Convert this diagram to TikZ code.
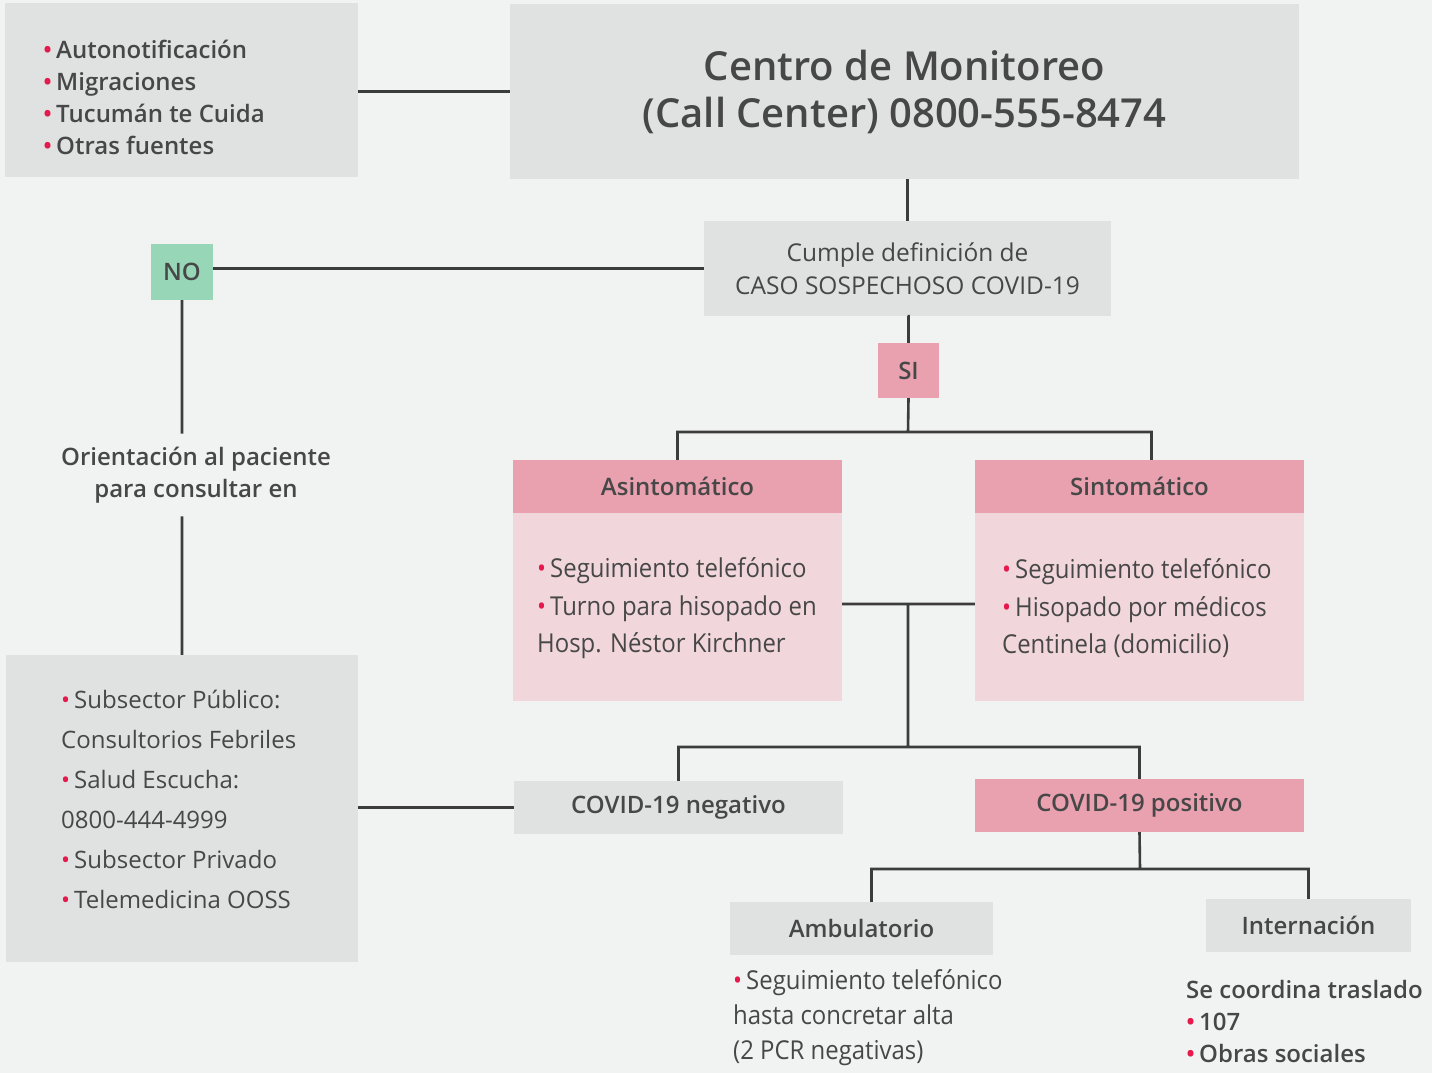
\documentclass[tikz,border=0pt]{standalone}
\usepackage{fontspec}
\setmainfont{Open Sans}
\newfontfamily\angosta[FakeStretch=0.92]{Open Sans}
\IfFontExistsTF{Open Sans Semibold}
  {\newfontfamily\semi{Open Sans Semibold}}
  {\IfFontExistsTF{Open Sans SemiBold}
    {\newfontfamily\semi{Open Sans SemiBold}}
    {\newcommand{\semi}{\bfseries}}}
\usetikzlibrary{positioning}

\definecolor{bggrey}{HTML}{F1F2F2}
\definecolor{boxgrey}{HTML}{E0E1E1}
\definecolor{pinkhead}{HTML}{E9A1B0}
\definecolor{pinkbody}{HTML}{F1D7DC}
\definecolor{nogreen}{HTML}{97D6B7}
\definecolor{inkgrey}{HTML}{474747}
\definecolor{dotred}{HTML}{E5194B}
\definecolor{linegrey}{HTML}{3C3C3C}

\newcommand{\punto}{\textcolor{dotred}{•}\hspace{4pt}}

\tikzset{
  caja/.style={fill=boxgrey, inner sep=0pt, text=inkgrey},
  cabeza/.style={fill=pinkhead, inner sep=0pt, text=inkgrey},
  cuerpo/.style={fill=pinkbody, inner sep=0pt},
  rotulo/.style={font=\semi\fontsize{24}{32}\selectfont},
  lista/.style={inner sep=0pt, align=left, text=inkgrey},
  conector/.style={draw=linegrey, line width=2.6pt},
}

\begin{document}
\begin{tikzpicture}[x=1pt,y=-1pt]
  \fill[bggrey] (0,0) rectangle (1432,1073);
  \useasboundingbox (0,0) rectangle (1432,1073);

  \node[caja, minimum width=353pt, minimum height=174pt] (fuentes) at (181.5,90) {};
  \node[lista, rotulo, anchor=west] (fuentestxt) at (43,97)
    {\punto Autonotificación\\\punto Migraciones\\\punto Tucumán te Cuida\\\punto Otras fuentes};
  \node[caja, minimum width=789pt, minimum height=175pt, align=center,
        font=\semi\fontsize{40}{47}\selectfont] (centro) at (904.5,91.5)
    {Centro de Monitoreo\\(Call Center) 0800-555-8474};
  \node[caja, minimum width=407pt, minimum height=95pt, align=center,
        font=\fontsize{24.5}{33}\selectfont] (cumple) at (907.5,268.5)
    {Cumple definición de\\CASO SOSPECHOSO COVID-19};
  \node[rotulo, fill=nogreen, text=inkgrey, minimum width=62pt, minimum height=56pt,
        inner sep=0pt] (no) at (182,272) {NO};
  \node[cabeza, rotulo, minimum width=61pt, minimum height=55pt] (si) at (908.5,370.5) {SI};
  \node[rotulo, text=inkgrey, align=center, inner sep=13pt] (orienta) at (196,475)
    {Orientación al paciente\\para consultar en};
  \node[caja, minimum width=352pt, minimum height=307pt] (consulta) at (182,808.5) {};
  \node[lista, anchor=west, font=\fontsize{24}{40}\selectfont] (consultatxt) at (61,799)
    {\punto Subsector Público:\\Consultorios Febriles\\\punto Salud Escucha:\\0800-444-4999\\
     \punto Subsector Privado\\\punto Telemedicina OOSS};

  \node[cabeza, rotulo, minimum width=329pt, minimum height=53pt] (asinthead) at (677.5,486.5) {Asintomático};
  \node[cuerpo, minimum width=329pt, minimum height=188pt] (asintbody) at (677.5,607) {};
  \node[lista, anchor=west, font=\angosta\fontsize{26}{37.5}\selectfont] (asinttxt) at (537,608.5)
    {\punto Seguimiento telefónico\\\punto Turno para hisopado en\\Hosp. Néstor Kirchner};
  \node[cabeza, rotulo, minimum width=329pt, minimum height=53pt] (sinthead) at (1139.5,486.5) {Sintomático};
  \node[cuerpo, minimum width=329pt, minimum height=188pt] (sintbody) at (1139.5,607) {};
  \node[lista, anchor=west, font=\angosta\fontsize{26}{37.5}\selectfont] (sinttxt) at (1002,608.5)
    {\punto Seguimiento telefónico\\\punto Hisopado por médicos\\Centinela (domicilio)};

  \node[caja, rotulo, minimum width=329pt, minimum height=53pt] (negativo) at (678.5,807.5) {COVID-19 negativo};
  \node[cabeza, rotulo, minimum width=329pt, minimum height=53pt] (positivo) at (1139.5,805.5) {COVID-19 positivo};
  \node[caja, rotulo, minimum width=263pt, minimum height=53pt] (ambu) at (861.5,928.5) {Ambulatorio};
  \node[caja, rotulo, minimum width=205pt, minimum height=53pt] (inter) at (1308.5,925.5) {Internación};
  \node[lista, anchor=west, font=\angosta\fontsize{26}{35}\selectfont] (ambutxt) at (733,1018)
    {\punto Seguimiento telefónico\\hasta concretar alta\\(2 PCR negativas)};
  \node[lista, rotulo, anchor=west] (intertxt) at (1186,1021)
    {Se coordina traslado\\\punto 107\\\punto Obras sociales};

  \coordinate (j1) at (908,432);
  \coordinate (medio) at (908,604);
  \coordinate (j2) at (908,747);
  \coordinate (j3) at (1140,869);

  \path[conector] (fuentes.east |- centro.west) -- (centro.west)
    (centro.south -| cumple.north) -- (cumple.north)
    (cumple.west) -- (cumple.west -| no.east)
    (cumple.south) -- (cumple.south -| si.north) -- (si.north)
    (no.south) -- (no.south |- orienta.north)
    (orienta.south -| no.south) -- (consulta.north -| no.south)
    (si.south) -- (j1) -| (asinthead.north)
    (j1) -| ([xshift=12pt]sinthead.north)
    (asintbody.east |- medio) -- (sintbody.west |- medio)
    (medio) -- (j2) -| (negativo.north)
    (j2) -| (positivo.north)
    (consulta.east |- negativo.west) -- (negativo.west)
    (positivo.south) -- (j3) -| ([xshift=10pt]ambu.north)
    (j3) -| (inter.north);
\end{tikzpicture}
\end{document}
